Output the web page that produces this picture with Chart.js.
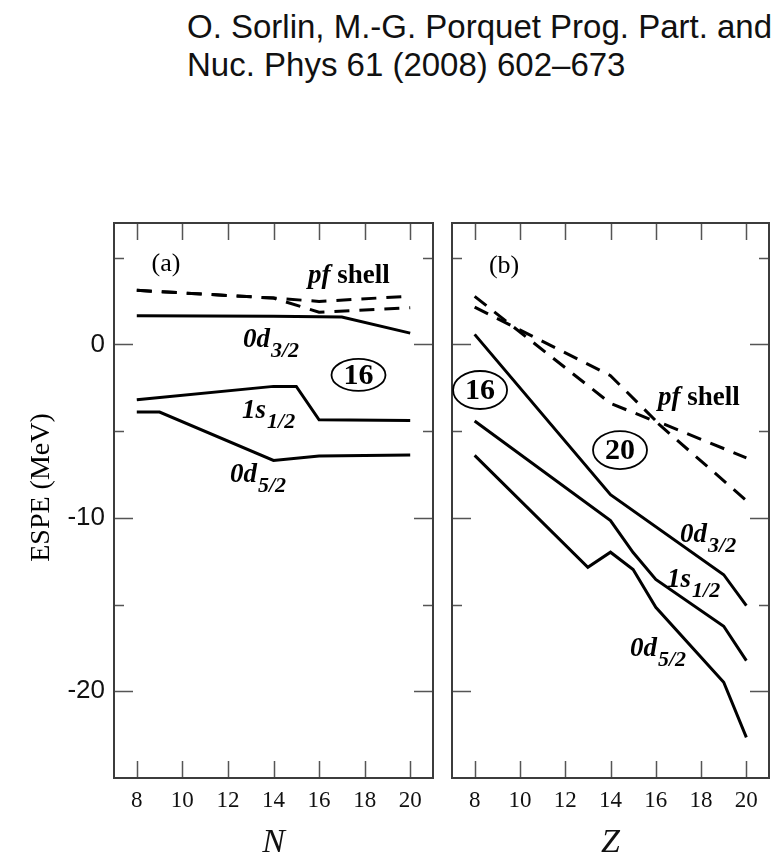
<!DOCTYPE html>
<html>
<head>
<meta charset="utf-8">
<script src="https://cdn.jsdelivr.net/npm/chart.js@4.4.1/dist/chart.umd.min.js"></script>
<style>
  html, body { margin: 0; padding: 0; background: #fff; }
  body { width: 780px; height: 865px; position: relative; overflow: hidden; }
  #ref { position: absolute; left: 187px; top: 8px; font: 33px "Liberation Sans", Arial, sans-serif;
         line-height: 38px; color: #111; white-space: nowrap; }
  #wa { position: absolute; left: 0; top: 0; width: 442px; height: 865px; }
  #wb { position: absolute; left: 442px; top: 0; width: 338px; height: 865px; }
</style>
</head>
<body>
<div id="ref">O. Sorlin, M.-G. Porquet Prog. Part. and<br>Nuc. Phys 61 (2008) 602–673</div>
<div id="wa"><canvas id="ca" width="442" height="865"></canvas></div>
<div id="wb"><canvas id="cb" width="338" height="865"></canvas></div>
<script>
// Effective single-particle energies (MeV) of the sd orbitals and the pf shell:
// (a) along the isotonic direction (neutron number N), (b) along Z.

const xTicks = [8, 10, 12, 14, 16, 18, 20];
const yTicks = [5, 0, -5, -10, -15, -20];
const yLabelled = [0, -10, -20];

// ---- panel (a): vs N ----
const nPfUpper = [8, 14, 16, 20];
const ePfUpper = [3.12, 2.67, 2.48, 2.78];
const nPfLower = [8, 14, 16, 20];
const ePfLower = [3.12, 2.67, 1.86, 2.12];
const nD32 = [8, 14, 17, 20];
const eD32 = [1.65, 1.62, 1.58, 0.65];
const nS12 = [8, 14, 15, 16, 20];
const eS12 = [-3.19, -2.42, -2.42, -4.35, -4.39];
const nD52 = [8, 9, 14, 16, 20];
const eD52 = [-3.9, -3.9, -6.69, -6.44, -6.37];

// ---- panel (b): vs Z ----
const zPfA = [8, 14, 16, 20];
const ePfA = [2.15, -1.8, -4.4, -6.54];
const zPfB = [8, 14, 16, 20];
const ePfB = [2.77, -3.4, -4.45, -9.0];
const zD32 = [8, 14, 19, 20];
const eD32b = [0.58, -8.66, -13.28, -15.06];
const zS12 = [8, 14, 15, 16, 19, 20];
const eS12b = [-4.42, -10.16, -12.0, -13.55, -16.25, -18.23];
const zD52 = [8, 13, 14, 15, 16, 19, 20];
const eD52b = [-6.4, -12.85, -11.98, -12.98, -15.16, -19.48, -22.66];

function pts(xs, ys) { return xs.map((x, i) => ({ x: x, y: ys[i] })); }
function curve(xs, ys, dashed) {
  return {
    data: pts(xs, ys),
    borderColor: '#000',
    borderWidth: 3,
    borderDash: dashed ? [15, 10] : [],
    pointRadius: 0,
    tension: 0,
    fill: false
  };
}

const SERIF = '"Liberation Serif", "Times New Roman", serif';
const SANS = '"Liberation Sans", Arial, sans-serif';

// frame, inward tick marks, in-plot labels
const decor = {
  id: 'decor',
  afterDraw(chart, args, o) {
    const { ctx, chartArea: a, scales: { x, y } } = chart;
    ctx.save();

    ctx.strokeStyle = '#555';
    ctx.lineWidth = 1.5;
    ctx.beginPath();
    xTicks.forEach(v => {
      const px = Math.round(x.getPixelForValue(v)) + 0.5;
      ctx.moveTo(px, a.top); ctx.lineTo(px, a.top + 17);
      ctx.moveTo(px, a.bottom); ctx.lineTo(px, a.bottom - 17);
    });
    yTicks.forEach(v => {
      const py = Math.round(y.getPixelForValue(v)) + 0.5;
      const len = yLabelled.includes(v) ? 19 : 10;
      ctx.moveTo(a.left, py); ctx.lineTo(a.left + len, py);
      ctx.moveTo(a.right, py); ctx.lineTo(a.right - len, py);
    });
    ctx.stroke();

    ctx.strokeStyle = '#3c3c3c';
    ctx.lineWidth = 2;
    ctx.strokeRect(a.left, a.top, a.right - a.left, a.bottom - a.top);

    ctx.fillStyle = '#000';
    if (o.yTitle) {
      ctx.save();
      ctx.translate(a.left - 72, (a.top + a.bottom) / 2 - 13);
      ctx.rotate(-Math.PI / 2);
      ctx.font = '28px ' + SERIF;
      ctx.textAlign = 'center';
      ctx.textBaseline = 'middle';
      ctx.fillText(o.yTitle, 0, 0);
      ctx.restore();
    }

    (o.notes || []).forEach(n => {
      const px = x.getPixelForValue(n.x);
      const py = y.getPixelForValue(n.y);
      ctx.textBaseline = 'alphabetic';
      if (n.kind === 'panel') {
        ctx.font = '26px ' + SERIF;
        ctx.textAlign = 'center';
        ctx.textBaseline = 'middle';
        ctx.fillText(n.text, px, py);
      } else if (n.kind === 'orbital') {
        ctx.textAlign = 'left';
        ctx.font = 'italic bold 27px ' + SERIF;
        ctx.fillText(n.text, px, py);
        const w = ctx.measureText(n.text).width;
        ctx.font = 'italic bold 22px ' + SERIF;
        ctx.fillText(n.sub, px + w + 1, py + 10);
      } else if (n.kind === 'shell') {
        ctx.textAlign = 'left';
        ctx.font = 'italic bold 27px ' + SERIF;
        ctx.fillText('pf', px, py);
        const w = ctx.measureText('pf ').width;
        ctx.font = 'bold 27px ' + SERIF;
        ctx.fillText('shell', px + w, py);
      } else if (n.kind === 'magic') {
        ctx.strokeStyle = '#000';
        ctx.lineWidth = 1.8;
        ctx.beginPath();
        ctx.ellipse(px, py, 27, n.ry, 0, 0, Math.PI * 2);
        ctx.stroke();
        ctx.font = 'bold 30px ' + SERIF;
        ctx.textAlign = 'center';
        ctx.textBaseline = 'middle';
        ctx.fillText(n.text, px, py + 1);
      }
    });
    ctx.restore();
  }
};

function xScale(title) {
  return {
    type: 'linear', min: 7, max: 21,
    afterBuildTicks: s => { s.ticks = xTicks.map(v => ({ value: v })); },
    afterFit: s => { s.height = 87; },
    grid: { display: false, drawTicks: false },
    border: { display: false },
    ticks: { font: { family: SERIF, size: 23 }, color: '#111', padding: 9, maxRotation: 0, autoSkip: false },
    title: { display: true, text: title, color: '#111',
             font: { family: SERIF, size: 34, style: 'italic' }, padding: { top: 0, bottom: 2 } }
  };
}

function yScale(show) {
  return {
    type: 'linear', min: -25, max: 7, display: show,
    afterBuildTicks: s => { s.ticks = yTicks.map(v => ({ value: v })); },
    afterFit: s => { s.width = show ? 114 : 0; },
    grid: { display: false, drawTicks: false },
    border: { display: false },
    ticks: { callback: v => yLabelled.includes(v) ? String(v) : '',
             font: { family: SANS, size: 26 }, color: '#111', padding: 9 }
  };
}

function panel(canvasId, sets, xTitle, showY, pad, notes, yTitle) {
  return new Chart(document.getElementById(canvasId), {
    type: 'line',
    data: { datasets: sets },
    options: {
      responsive: false,
      animation: false,
      devicePixelRatio: 1,
      layout: { padding: pad },
      plugins: { legend: { display: false }, tooltip: { enabled: false },
                 decor: { notes: notes, yTitle: yTitle } },
      scales: { x: xScale(xTitle), y: yScale(showY) }
    },
    plugins: [decor]
  });
}

panel('ca', [
  curve(nPfUpper, ePfUpper, true),
  curve(nPfLower, ePfLower, true),
  curve(nD32, eD32, false),
  curve(nS12, eS12, false),
  curve(nD52, eD52, false)
], 'N', true, { left: 0, right: 9, top: 223, bottom: 0 }, [
  { kind: 'panel', x: 9.28, y: 4.64, text: '(a)' },
  { kind: 'shell', x: 15.51, y: 3.54 },
  { kind: 'orbital', x: 12.66, y: -0.15, text: '0d', sub: '3/2' },
  { kind: 'magic', x: 17.73, y: -1.76, text: '16', ry: 16 },
  { kind: 'orbital', x: 12.62, y: -4.24, text: '1s', sub: '1/2' },
  { kind: 'orbital', x: 12.09, y: -7.93, text: '0d', sub: '5/2' }
], 'ESPE (MeV)');

panel('cb', [
  curve(zPfA, ePfA, true),
  curve(zPfB, ePfB, true),
  curve(zD32, eD32b, false),
  curve(zS12, eS12b, false),
  curve(zD52, eD52b, false)
], 'Z', false, { left: 10, right: 11, top: 223, bottom: 0 }, [
  { kind: 'panel', x: 9.3, y: 4.52, text: '(b)' },
  { kind: 'magic', x: 8.24, y: -2.63, text: '16', ry: 19 },
  { kind: 'magic', x: 14.42, y: -6.09, text: '20', ry: 19 },
  { kind: 'shell', x: 16.1, y: -3.49 },
  { kind: 'orbital', x: 17.07, y: -11.39, text: '0d', sub: '3/2' },
  { kind: 'orbital', x: 16.5, y: -13.99, text: '1s', sub: '1/2' },
  { kind: 'orbital', x: 14.86, y: -17.97, text: '0d', sub: '5/2' }
], null);
</script>
</body>
</html>
